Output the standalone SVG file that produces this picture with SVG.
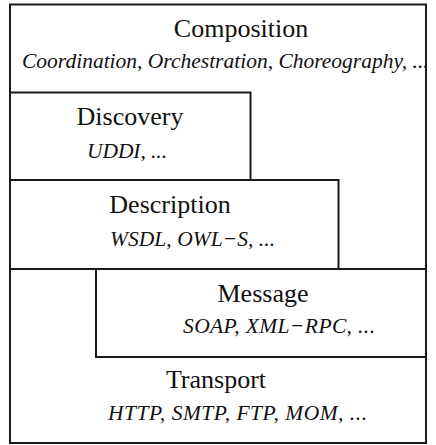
<svg xmlns="http://www.w3.org/2000/svg" width="436" height="445" viewBox="0 0 436 445">
<style>
rect{fill:none;stroke:#1a1a1a;stroke-width:2}
.t{font-family:"Liberation Serif","Times New Roman",serif;font-size:26px;fill:#111;text-anchor:middle}
.i{font-family:"Liberation Serif","Times New Roman",serif;font-size:21.5px;font-style:italic;fill:#111}
</style>
<rect x="0" y="0" width="436" height="445" style="fill:#fff;stroke:none"/>
<g id="composition">
<rect x="10" y="4.5" width="416" height="438.5"/>
<text class="t" x="241" y="37">Composition</text>
<text class="i" x="22" y="68">Coordination, Orchestration, Choreography, ...</text>
</g>
<g id="discovery">
<rect x="10" y="92.5" width="240.5" height="87.5"/>
<text class="t" x="130" y="125">Discovery</text>
<text class="i" x="87" y="158" textLength="80">UDDI, ...</text>
</g>
<g id="description">
<rect x="10" y="180" width="328.5" height="89"/>
<text class="t" x="170" y="213">Description</text>
<text class="i" x="110" y="246" textLength="165">WSDL, OWL−S, ...</text>
</g>
<g id="message">
<rect x="96" y="269" width="330" height="88"/>
<text class="t" x="263" y="302">Message</text>
<text class="i" x="183" y="333" textLength="192">SOAP, XML−RPC, ...</text>
</g>
<g id="transport">
<text class="t" x="216" y="388">Transport</text>
<text class="i" x="108" y="420" textLength="259">HTTP, SMTP, FTP, MOM, ...</text>
</g>
<g id="connectors"></g>
</svg>
